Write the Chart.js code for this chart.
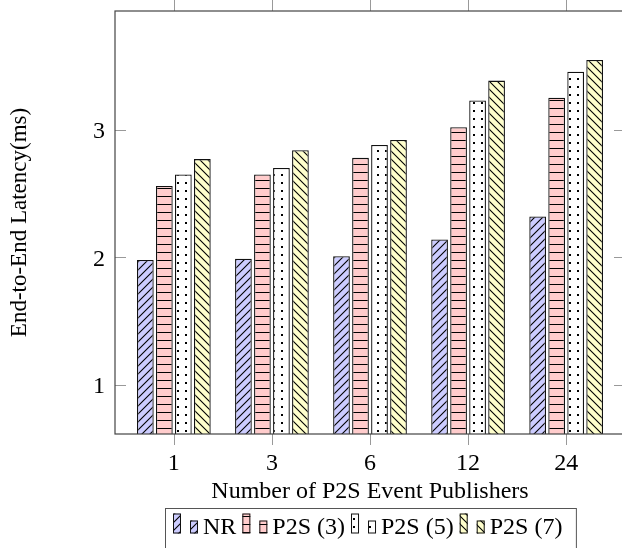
<!DOCTYPE html>
<html>
<head>
<meta charset="utf-8">
<script src="https://cdn.jsdelivr.net/npm/chart.js@4.4.1/dist/chart.umd.min.js"></script>
<style>
html, body { margin: 0; padding: 0; background: #fff; overflow: hidden; }
</style>
</head>
<body>
<canvas id="chart" width="640" height="548"></canvas>
<script>
const categories = ['1', '3', '6', '12', '24'];
const seriesNames = ['NR', 'P2S (3)', 'P2S (5)', 'P2S (7)'];
const nrValues = [1.98, 1.99, 2.01, 2.14, 2.32];
const p2s3Values = [2.56, 2.65, 2.78, 3.02, 3.25];
const p2s5Values = [2.65, 2.70, 2.88, 3.23, 3.455];
const p2s7Values = [2.77, 2.84, 2.92, 3.385, 3.547];
const yTicks = [1, 2, 3];

const FONT = '"Liberation Serif", "Times New Roman", serif';
const canvas = document.getElementById('chart');
const ctx2d = canvas.getContext('2d');

// pgfplots-like fill patterns, 8px tiles
function makePattern(bg, kind) {
    const c = document.createElement('canvas');
    c.width = 8; c.height = 8;
    const g = c.getContext('2d');
    g.fillStyle = bg;
    g.fillRect(0, 0, 8, 8);
    g.strokeStyle = '#000';
    g.fillStyle = '#000';
    g.lineWidth = 1.1;
    g.beginPath();
    if (kind === 'ne') {
        g.moveTo(-1, 9); g.lineTo(9, -1);
        g.moveTo(-1, 1); g.lineTo(1, -1);
        g.moveTo(7, 9); g.lineTo(9, 7);
        g.stroke();
    } else if (kind === 'nw') {
        g.moveTo(-1, -1); g.lineTo(9, 9);
        g.moveTo(7, -1); g.lineTo(9, 1);
        g.moveTo(-1, 7); g.lineTo(1, 9);
        g.stroke();
    } else if (kind === 'h') {
        g.fillRect(0, 4, 8, 1);
    } else if (kind === 'dots') {
        g.fillRect(1, 6, 2, 2);
    }
    return ctx2d.createPattern(c, 'repeat');
}

const fills = [
    makePattern('#ccccff', 'ne'),
    makePattern('#ffcccc', 'h'),
    makePattern('#ffffff', 'dots'),
    makePattern('#ffffcc', 'nw')
];
const allValues = [nrValues, p2s3Values, p2s5Values, p2s7Values];

const datasets = allValues.map((vals, k) => ({
    label: seriesNames[k],
    data: vals.map((v, i) => ({ x: i, y: v })),
    backgroundColor: fills[k],
    borderColor: '#111',
    borderWidth: 1.3,
    borderSkipped: false,
    categoryPercentage: 0.775,
    barPercentage: 0.88
}));

const frame = {
    id: 'frame',
    afterDatasetsDraw(chart) {
        const { ctx, chartArea: a, scales: { x, y } } = chart;
        ctx.save();
        ctx.strokeStyle = '#999';
        ctx.lineWidth = 1;
        ctx.beginPath();
        categories.forEach((_, i) => {
            const px = Math.round(x.getPixelForValue(i)) + 0.5;
            ctx.moveTo(px, a.top - 11); ctx.lineTo(px, a.top);
            ctx.moveTo(px, a.bottom); ctx.lineTo(px, a.bottom + 11);
        });
        yTicks.forEach(v => {
            const py = Math.round(y.getPixelForValue(v)) + 0.5;
            ctx.moveTo(a.left, py); ctx.lineTo(a.left + 11, py);
            ctx.moveTo(a.right - 11, py); ctx.lineTo(a.right, py);
        });
        ctx.stroke();
        ctx.strokeStyle = '#444';
        ctx.lineWidth = 1.2;
        ctx.strokeRect(a.left, a.top, a.right - a.left, a.bottom - a.top);
        ctx.restore();
    }
};

// boxed legend below the axis title, two little bars per entry
const boxLegend = {
    id: 'boxLegend',
    afterDraw(chart) {
        const ctx = chart.ctx;
        ctx.save();
        ctx.font = '24px ' + FONT;
        ctx.textBaseline = 'alphabetic';
        ctx.fillStyle = '#000';
        const base = 533.5;
        let x = 173;
        seriesNames.forEach((name, k) => {
            ctx.fillStyle = fills[k];
            ctx.fillRect(x, base - 20, 8, 20);
            ctx.fillRect(x + 17, base - 13, 8, 13);
            ctx.strokeStyle = '#111';
            ctx.lineWidth = 1;
            ctx.strokeRect(x + 0.5, base - 19.5, 7, 19);
            ctx.strokeRect(x + 17.5, base - 12.5, 7, 12);
            ctx.fillStyle = '#000';
            ctx.fillText(name, x + 30, base);
            x += 30 + ctx.measureText(name).width + 6;
        });
        ctx.strokeStyle = '#555';
        ctx.lineWidth = 1;
        ctx.strokeRect(165.5, 508.5, x - 6 + 14 - 165.5, 60);
        ctx.restore();
    }
};

new Chart(canvas, {
    type: 'bar',
    data: { datasets },
    options: {
        responsive: false,
        animation: false,
        events: [],
        layout: { padding: { left: 0, right: 15, top: 11, bottom: 0 } },
        plugins: { legend: { display: false }, tooltip: { enabled: false } },
        scales: {
            x: {
                type: 'linear',
                offset: false,
                min: -0.6,
                max: 4.6,
                grid: { display: false, drawTicks: false, tickLength: 0, offset: false },
                border: { display: false },
                afterBuildTicks: s => { s.ticks = categories.map((_, i) => ({ value: i })); },
                afterFit: s => { s.height = 114; s.paddingLeft = 0; s.paddingRight = 0; },
                ticks: {
                    autoSkip: false,
                    maxRotation: 0,
                    padding: 15,
                    color: '#000',
                    font: { family: FONT, size: 24, lineHeight: 1.2 },
                    callback: v => categories[v]
                },
                title: {
                    display: true,
                    text: 'Number of P2S Event Publishers',
                    color: '#000',
                    font: { family: FONT, size: 24, lineHeight: 1.2 },
                    padding: { top: 0, bottom: 41.6 }
                }
            },
            y: {
                min: 0.617,
                max: 3.93,
                grid: { display: false, drawTicks: false, tickLength: 0 },
                border: { display: false },
                afterBuildTicks: s => { s.ticks = yTicks.map(v => ({ value: v })); },
                afterFit: s => { s.width = 115; s.paddingTop = 0; s.paddingBottom = 0; },
                ticks: {
                    padding: 10,
                    labelOffset: 2,
                    color: '#000',
                    font: { family: FONT, size: 24, lineHeight: 1.2 }
                },
                title: {
                    display: true,
                    text: 'End-to-End Latency(ms)',
                    color: '#000',
                    font: { family: FONT, size: 23, lineHeight: 1.2 },
                    padding: { top: 6, bottom: 0 }
                }
            }
        }
    },
    plugins: [frame, boxLegend]
});
</script>
</body>
</html>
